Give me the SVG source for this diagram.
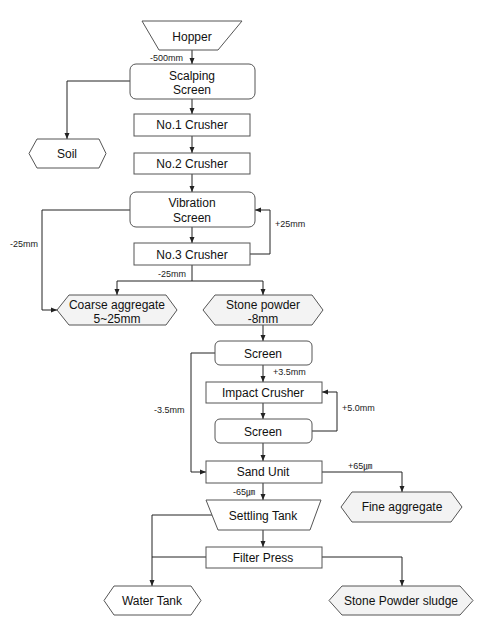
<svg xmlns="http://www.w3.org/2000/svg" width="481" height="620" viewBox="0 0 481 620">
<defs>
<marker id="arr" markerUnits="userSpaceOnUse" markerWidth="8" markerHeight="8" viewBox="0 0 8 8" refX="7" refY="4" orient="auto">
<path d="M1,1.5 L7,4 L1,6.5 Z" fill="#222"/>
</marker>
<style>
.n{fill:#fff;stroke:#555;stroke-width:1}
.g{fill:#f3f3f3;stroke:#555;stroke-width:1}
.t{font-family:"Liberation Sans",Arial,sans-serif;font-size:12px;fill:#111;text-anchor:middle}
.s{font-family:"Liberation Sans","Noto Sans CJK KR",sans-serif;font-size:9px;fill:#222}
.c{fill:none;stroke:#222;stroke-width:1}
.a{marker-end:url(#arr)}
</style>
</defs>
<rect width="481" height="620" fill="#fff"/>
<g id="connectors">
<path class="c a" d="M192,50 V64"/>
<path class="c a" d="M130,81 H67 V139"/>
<path class="c a" d="M192,99 V114"/>
<path class="c a" d="M192,136 V153"/>
<path class="c a" d="M192,174 V192"/>
<path class="c a" d="M192,227 V243"/>
<path class="c a" d="M130,210 H42 V310 H57"/>
<path class="c a" d="M250,254 H270 V210 H255"/>
<path class="c" d="M192,265 V281 M117,281 H263"/>
<path class="c a" d="M117,281 V295"/>
<path class="c a" d="M263,281 V295"/>
<path class="c a" d="M263,325 V341"/>
<path class="c a" d="M215,353 H191 V472 H206"/>
<path class="c a" d="M263,365 V382"/>
<path class="c a" d="M263,403 V419"/>
<path class="c a" d="M312,431 H337 V392 H322"/>
<path class="c a" d="M263,443 V461"/>
<path class="c a" d="M322,472 H402 V492"/>
<path class="c a" d="M263,483 V500"/>
<path class="c a" d="M212,515 H152 V586"/>
<path class="c a" d="M263,530 V547"/>
<path class="c" d="M206,557 H152"/>
<path class="c a" d="M322,557 H402 V586"/>
</g>
<g id="labels">
<text class="s" x="150" y="61">-500mm</text>
<text class="s" x="10" y="247">-25mm</text>
<text class="s" x="275" y="227">+25mm</text>
<text class="s" x="158" y="277">-25mm</text>
<text class="s" x="273" y="375">+3.5mm</text>
<text class="s" x="154" y="413">-3.5mm</text>
<text class="s" x="342" y="411">+5.0mm</text>
<text class="s" x="348" y="469">+65㎛</text>
<text class="s" x="233" y="495">-65㎛</text>
</g>
<g id="hopper">
<polygon class="n" points="142,21 242,21 218,50 159,50"/>
<text class="t" x="192" y="41">Hopper</text>
</g>
<g id="scalping-screen">
<rect class="n" x="130" y="64" width="125" height="35" rx="6"/>
<text class="t" x="192" y="80">Scalping</text>
<text class="t" x="192" y="94">Screen</text>
</g>
<g id="soil">
<polygon class="n" points="29,153.5 37,139 99,139 106,153.5 99,168 37,168"/>
<text class="t" x="67" y="158">Soil</text>
</g>
<g id="no1-crusher">
<rect class="n" x="134" y="114" width="116" height="22"/>
<text class="t" x="192" y="129">No.1 Crusher</text>
</g>
<g id="no2-crusher">
<rect class="n" x="134" y="153" width="116" height="21"/>
<text class="t" x="192" y="168">No.2 Crusher</text>
</g>
<g id="vibration-screen">
<rect class="n" x="130" y="192" width="125" height="35" rx="6"/>
<text class="t" x="192" y="207">Vibration</text>
<text class="t" x="192" y="222">Screen</text>
</g>
<g id="no3-crusher">
<rect class="n" x="134" y="243" width="116" height="22"/>
<text class="t" x="192" y="259">No.3 Crusher</text>
</g>
<g id="coarse-aggregate">
<polygon class="g" points="57,310 69,295 166,295 177,310 166,325 69,325"/>
<text class="t" x="117" y="309">Coarse aggregate</text>
<text class="t" x="117" y="323">5~25mm</text>
</g>
<g id="stone-powder">
<polygon class="g" points="203,310 215,295 312,295 323,310 312,325 215,325"/>
<text class="t" x="263" y="309">Stone powder</text>
<text class="t" x="263" y="323">-8mm</text>
</g>
<g id="screen-1">
<rect class="n" x="215" y="341" width="97" height="24" rx="5"/>
<text class="t" x="263" y="358">Screen</text>
</g>
<g id="impact-crusher">
<rect class="n" x="206" y="382" width="116" height="21"/>
<text class="t" x="263" y="397">Impact Crusher</text>
</g>
<g id="screen-2">
<rect class="n" x="215" y="419" width="97" height="24" rx="5"/>
<text class="t" x="263" y="436">Screen</text>
</g>
<g id="sand-unit">
<rect class="n" x="206" y="461" width="116" height="22"/>
<text class="t" x="263" y="476">Sand Unit</text>
</g>
<g id="fine-aggregate">
<polygon class="g" points="341,507 352,492 451,492 462,507 451,522 352,522"/>
<text class="t" x="402" y="511">Fine aggregate</text>
</g>
<g id="settling-tank">
<polygon class="n" points="206,500 321,500 310,530 218,530"/>
<text class="t" x="263" y="520">Settling Tank</text>
</g>
<g id="filter-press">
<rect class="n" x="206" y="547" width="116" height="21"/>
<text class="t" x="263" y="562">Filter Press</text>
</g>
<g id="water-tank">
<polygon class="n" points="104,600.5 114,586 191,586 201,600.5 191,615 114,615"/>
<text class="t" x="152" y="605">Water Tank</text>
</g>
<g id="stone-powder-sludge">
<polygon class="g" points="329,600.5 342,586 460,586 473,600.5 460,615 342,615"/>
<text class="t" x="401" y="605">Stone Powder sludge</text>
</g>
</svg>
